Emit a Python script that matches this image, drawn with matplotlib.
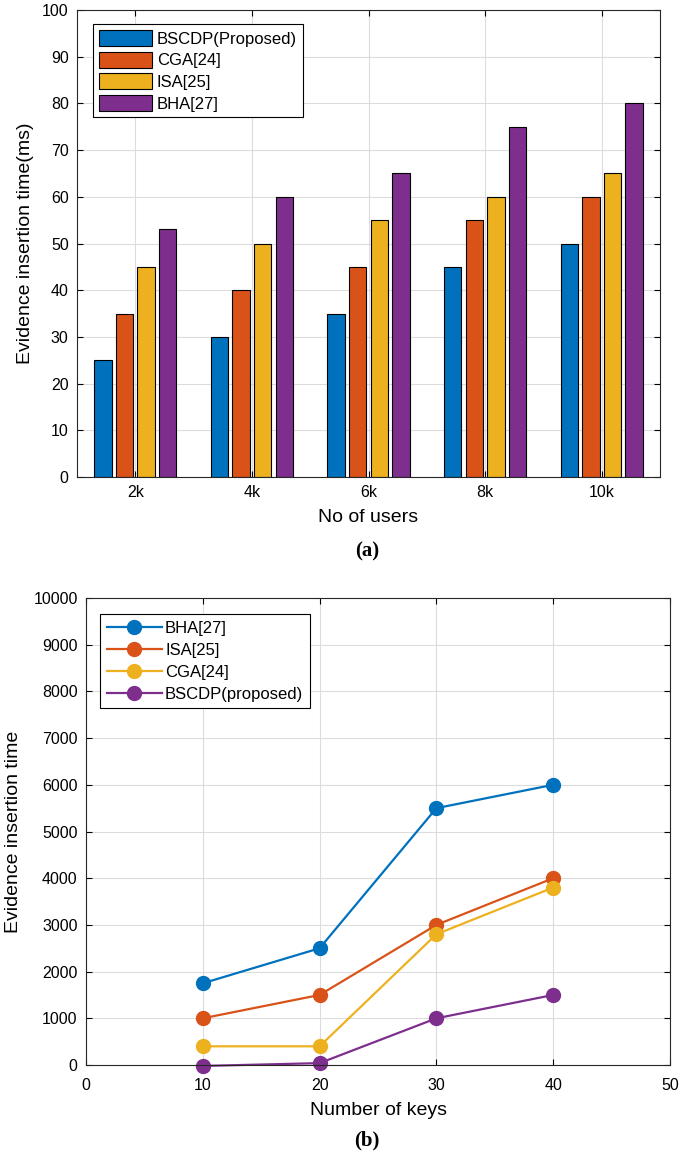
import numpy as np
import matplotlib.pyplot as plt
import matplotlib

matplotlib.rcParams['font.family'] = ['Liberation Sans', 'DejaVu Sans']

# (a) evidence insertion time vs number of users
users = ['2k', '4k', '6k', '8k', '10k']
bscdp_a = [25, 30, 35, 45, 50]
cga_a = [35, 40, 45, 55, 60]
isa_a = [45, 50, 55, 60, 65]
bha_a = [53, 60, 65, 75, 80]

# (b) evidence insertion time vs number of keys
keys = [10, 20, 30, 40]
bha_b = [1750, 2500, 5500, 6000]
isa_b = [1000, 1500, 3000, 4000]
cga_b = [400, 400, 2800, 3800]
bscdp_b = [-20, 40, 1000, 1500]

c_blue = '#0072BD'
c_orange = '#D95319'
c_yellow = '#EDB120'
c_purple = '#7E2F8E'

fig = plt.figure(figsize=(6.85, 11.59), dpi=100)
W, H = 685.0, 1159.0

def style(ax):
    ax.grid(True, color='#dcdcdc', lw=0.8)
    ax.set_axisbelow(True)
    ax.tick_params(direction='in', top=True, right=True, labelsize=11.5, length=4, pad=6)
    for s in ax.spines.values():
        s.set_linewidth(0.8)
        s.set_color('#262626')

ax1 = fig.add_axes([77/W, 1-477/H, 583/W, 467/H])
x = np.arange(1, len(users)+1)
bw = 0.15
offs = [-0.278, -0.093, 0.093, 0.278]
for vals, col, lab, o in zip([bscdp_a, cga_a, isa_a, bha_a], [c_blue, c_orange, c_yellow, c_purple],
                             ['BSCDP(Proposed)', 'CGA[24]', 'ISA[25]', 'BHA[27]'], offs):
    ax1.bar(x+o, vals, bw, color=col, edgecolor='black', lw=0.8, label=lab)
ax1.set_xlim(0.5, 5.5)
ax1.set_ylim(0, 100)
ax1.set_yticks(np.arange(0, 101, 10))
ax1.set_xticks(x)
ax1.set_xticklabels(users)
style(ax1)
ax1.set_ylabel('Evidence insertion time(ms)', fontsize=14, labelpad=6)
ax1.set_xlabel('No of users', fontsize=14, labelpad=6)
leg = ax1.legend(loc='upper left', bbox_to_anchor=(0.027, 0.97), borderaxespad=0, fontsize=12,
                 fancybox=False, edgecolor='black', framealpha=1, handlelength=3.2, handleheight=1.1,
                 labelspacing=0.3, borderpad=0.35, handletextpad=0.3)
leg.get_frame().set_linewidth(0.8)
fig.text(367/W, 1-551/H, '(a)', ha='center', va='center', fontsize=15, fontweight='bold',
         family='Liberation Serif')

ax2 = fig.add_axes([86/W, 1-1065/H, 584/W, 467/H])
for vals, col, lab in zip([bha_b, isa_b, cga_b, bscdp_b], [c_blue, c_orange, c_yellow, c_purple],
                          ['BHA[27]', 'ISA[25]', 'CGA[24]', 'BSCDP(proposed)']):
    ax2.plot(keys, vals, '-o', color=col, lw=1.6, ms=10, label=lab, clip_on=False)
ax2.set_xlim(0, 50)
ax2.set_ylim(0, 10000)
ax2.set_yticks(np.arange(0, 10001, 1000))
ax2.set_xticks(np.arange(0, 51, 10))
style(ax2)
ax2.tick_params(axis='x', pad=9)
ax2.set_ylabel('Evidence insertion time', fontsize=14, labelpad=8)
ax2.set_xlabel('Number of keys', fontsize=14, labelpad=7)
leg2 = ax2.legend(loc='upper left', bbox_to_anchor=(0.024, 0.966), borderaxespad=0, fontsize=12,
                  fancybox=False, edgecolor='black', framealpha=1, handlelength=3.3,
                  labelspacing=0.42, borderpad=0.4, handletextpad=0.2)
leg2.get_frame().set_linewidth(0.8)
fig.text(367/W, 1-1140/H, '(b)', ha='center', va='center', fontsize=15, fontweight='bold',
         family='Liberation Serif')

fig.savefig('out.png', dpi=100)
